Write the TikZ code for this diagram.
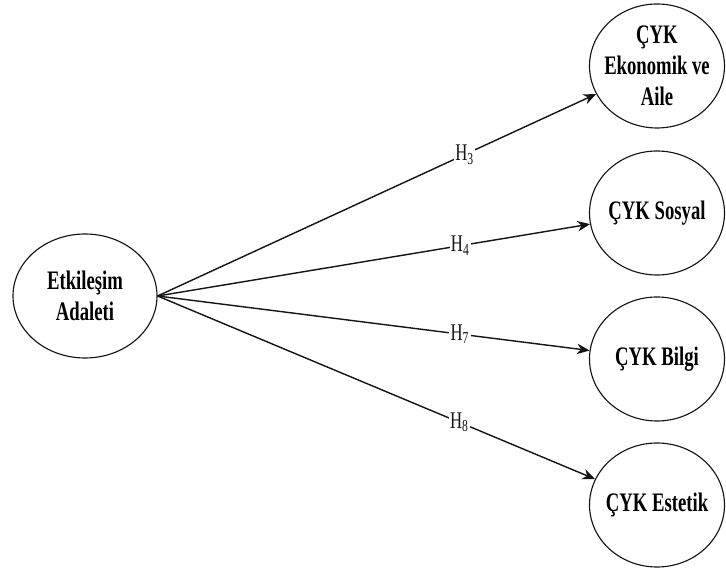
\documentclass[tikz,border=0pt]{standalone}
\usepackage{fontspec}
\setmainfont{Liberation Serif}[FakeStretch=0.7]
\usepackage{tikz}
\usetikzlibrary{shapes.geometric, arrows.meta, positioning}
\definecolor{mydark}{RGB}{20,20,20}
\tikzset{
  construct/.style={ellipse, draw=mydark, fill=white,
    minimum width=3.375cm, minimum height=3.1cm, align=center,
    font=\fontsize{19}{22}\selectfont\bfseries, line width=0.8pt, inner sep=-12pt},
  arrow/.style={-{Stealth[length=9pt, width=7.5pt]}, line width=1pt, color=mydark},
  hyp/.style={fill=white, inner sep=1pt, font=\fontsize{17}{18}\selectfont}
}

\begin{document}
\begin{tikzpicture}
  \useasboundingbox (0,0) rectangle (18.15,14.2);
  % Independent construct (left)
  \node[construct, minimum width=3.6cm] (etk) at (2.125,6.8) {Etkileşim\\Adaleti};

  % Dependent constructs (right column)
  \node[construct] (eco) at (16.425,12.55) {ÇYK\\Ekonomik ve\\Aile};
  \node[construct] (sos) at (16.425,8.875) {ÇYK Sosyal};
  \node[construct] (bil) at (16.425,5.225) {ÇYK Bilgi};
  \node[construct] (est) at (16.425,1.575) {ÇYK Estetik};

  % Hypothesis paths
  \draw[arrow] (etk.east) -- node[hyp, pos=0.7] {H\textsubscript{3}} (eco);
  \draw[arrow] (etk.east) -- node[hyp, pos=0.7] {H\textsubscript{4}} (sos);
  \draw[arrow] (etk.east) -- node[hyp, pos=0.7] {H\textsubscript{7}} (bil);
  \draw[arrow] (etk.east) -- node[hyp, pos=0.69] {H\textsubscript{8}} (est);
\end{tikzpicture}
\end{document}
